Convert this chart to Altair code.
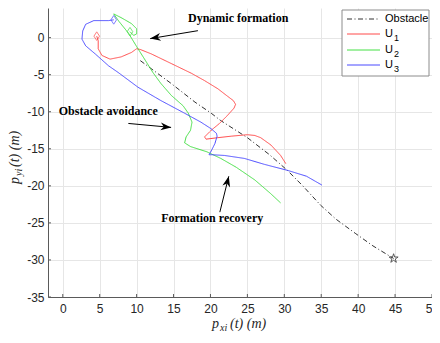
import math
import altair as alt
import pandas as pd

# ---------------- data ----------------
series_names = ["Obstacle", "U₁", "U₂", "U₃"]
series_colors = ["#333333", "#ff4a4a", "#45e045", "#4a4aff"]
series_dash = [[5, 2.5, 1, 2.5], [1, 0], [1, 0], [1, 0]]
legend_main = ["Obstacle", "U", "U", "U"]
legend_sub = ["", "1", "2", "3"]

obs_x = [10.5, 14.7, 17.9, 20.1, 21.4, 25.0, 28.0, 30.4, 32.5, 34.9, 37.0, 39.6, 42.0, 44.8]
obs_y = [-3.1, -6.2, -8.7, -10.2, -11.2, -13.5, -15.8, -17.9, -20.0, -22.6, -24.5, -26.4, -28.1, -29.8]

u1_x = [4.6, 4.8, 4.8, 5.3, 6.4, 7.9, 9.3, 10.0, 10.5, 12.0, 14.7, 17.4, 19.2, 21.0, 22.3,
        23.1, 23.4, 23.2, 22.3, 21.2, 20.1, 19.2, 19.4, 21.0, 22.8, 25.0, 26.0, 26.8, 28.2, 29.5, 30.2]
u1_y = [0.2, -0.4, -1.5, -2.4, -2.9, -2.6, -2.0, -1.5, -1.6, -2.2, -3.5, -4.8, -5.8, -6.9, -7.9,
        -8.5, -9.0, -9.5, -10.5, -11.6, -12.5, -13.4, -13.7, -13.5, -13.3, -13.1, -13.2, -13.5, -14.5, -15.9, -17.0]

u2_x = [9.1, 9.6, 10.0, 10.0, 9.3, 7.9, 6.9, 7.6, 8.9, 10.0, 11.2, 12.2, 13.3, 14.7, 16.3, 17.0,
        17.5, 17.3, 16.7, 16.5, 17.3, 19.5, 21.4, 23.5, 26.0, 28.1, 29.5]
u2_y = [0.8, 0.3, 0.5, 1.2, 1.9, 2.7, 3.2, 2.2, 0.6, -1.2, -3.1, -4.7, -6.2, -7.8, -9.2, -10.2,
        -11.4, -12.5, -13.4, -14.2, -14.7, -15.4, -16.3, -17.5, -19.2, -21.0, -22.3]

u3_x = [6.9, 6.2, 4.2, 3.1, 2.7, 2.6, 3.1, 4.4, 6.2, 7.5, 10.2, 13.3, 16.5, 18.7, 20.1, 20.8, 20.9,
        20.6, 20.1, 19.8, 20.2, 21.9, 24.6, 27.3, 30.4, 33.0, 35.1]
u3_y = [2.4, 2.3, 2.3, 1.8, 0.9, -0.2, -1.1, -2.2, -3.8, -4.7, -6.7, -8.5, -10.2, -11.4, -12.3, -12.9, -13.3,
        -14.3, -15.3, -15.8, -15.8, -15.9, -16.3, -17.1, -17.9, -18.7, -19.9]

start_names = ["U₁", "U₂", "U₃"]
start_x = [4.6, 9.1, 6.9]
start_y = [0.2, 0.8, 2.4]
goal_x = [44.8]
goal_y = [-29.8]

note_text = ["Dynamic formation", "Obstacle avoidance", "Formation recovery"]
note_x = [16.96, -0.54, 13.32]
note_y = [2.69, -9.96, -24.36]
arrow_x1 = [18.3, 8.88, 21.27]
arrow_y1 = [0.94, -11.58, -23.55]
arrow_x2 = [11.84, 14.67, 22.48]
arrow_y2 = [-0.13, -12.11, -18.71]

x_ticks = [0, 5, 10, 15, 20, 25, 30, 35, 40, 45, 50]
y_ticks = [-35, -30, -25, -20, -15, -10, -5, 0]
x_domain = [-2, 50]
y_domain = [-35, 4]

# ---------------- layout ----------------
W, H = 384, 289
sx = W / (x_domain[1] - x_domain[0])
sy = H / (y_domain[1] - y_domain[0])

rows = []
for name, xs, ys in [("Obstacle", obs_x, obs_y), ("U₁", u1_x, u1_y),
                     ("U₂", u2_x, u2_y), ("U₃", u3_x, u3_y)]:
    for i, (a, b) in enumerate(zip(xs, ys)):
        rows.append({"x": a, "y": b, "series": name, "i": i})
df_lines = pd.DataFrame(rows)

df_start = pd.DataFrame({"x": start_x, "y": start_y, "series": start_names})
df_goal = pd.DataFrame({"x": goal_x, "y": goal_y})
df_notes = pd.DataFrame({"x": note_x, "y": note_y, "text": note_text})
angles = [math.degrees(math.atan2(-(y2 - y1) * sy, (x2 - x1) * sx)) % 360
          for x1, y1, x2, y2 in zip(arrow_x1, arrow_y1, arrow_x2, arrow_y2)]
df_arrows = pd.DataFrame({"x": arrow_x1, "y": arrow_y1, "x2": arrow_x2, "y2": arrow_y2, "ang": angles})
df_xt = pd.DataFrame({"x": x_ticks})
df_yt = pd.DataFrame({"y": y_ticks})

# legend layout (pixels inside the plot area)
LX0, LX1, LY0, LY1 = 294, 381, 2, 68
row_y = [11, 26, 42, 57]
df_leg = pd.DataFrame({
    "col": series_colors, "main": legend_main, "sub": legend_sub,
    "ry": row_y, "rx0": [LX0 + 5] * 4, "rx1": [LX0 + 38] * 4,
    "tx": [LX0 + 43] * 4, "sxp": [LX0 + 52] * 4,
    "sy": [r + 4 for r in row_y],
})
df_leg_obs = df_leg.iloc[:1]
df_leg_u = df_leg.iloc[1:]

xscale = alt.Scale(domain=x_domain, nice=False, zero=False)
yscale = alt.Scale(domain=y_domain, nice=False, zero=False)
axis_common = dict(grid=True, gridColor="#e6e6e6", ticks=False, domainColor="#5a5a5a",
                   labelFont="Liberation Sans", labelFontSize=12, labelColor="#262626",
                   title=None, labelExpr="datum.value + ''")
xaxis = alt.Axis(values=x_ticks, labelPadding=6, labelFlush=False, **axis_common)
yaxis = alt.Axis(values=y_ticks, labelPadding=4, **axis_common)


def X(f="x"):
    return alt.X(f"{f}:Q", scale=xscale, axis=xaxis)


def Y(f="y"):
    return alt.Y(f"{f}:Q", scale=yscale, axis=yaxis)


color_scale = alt.Scale(domain=series_names, range=series_colors)
dash_scale = alt.Scale(domain=series_names, range=series_dash)

lines = alt.Chart(df_lines).mark_line(strokeWidth=1).encode(
    x=X(), y=Y(),
    color=alt.Color("series:N", scale=color_scale, legend=None),
    strokeDash=alt.StrokeDash("series:N", scale=dash_scale, legend=None),
    order=alt.Order("i:Q"),
)

diamond = "M0,-1L0.65,0L0,1L-0.65,0Z"
starts = alt.Chart(df_start).mark_point(shape=diamond, size=75, filled=False, strokeWidth=1).encode(
    x=X(), y=Y(),
    stroke=alt.Stroke("series:N", scale=alt.Scale(domain=series_names[1:], range=series_colors[1:]), legend=None),
)

star = ("M0,-1L0.223,-0.307L0.951,-0.309L0.361,0.117L0.588,0.809L0,0.38L-0.588,0.809"
        "L-0.361,0.117L-0.951,-0.309L-0.223,-0.307Z")
goal = alt.Chart(df_goal).mark_point(shape=star, size=90, filled=False, strokeWidth=0.9, color="black").encode(
    x=X(), y=Y())

xt = alt.Chart(df_xt).mark_rule(color="#5a5a5a", strokeWidth=1).encode(
    x=X(), y=alt.value(H), y2=alt.value(H - 3))
yt = alt.Chart(df_yt).mark_rule(color="#5a5a5a", strokeWidth=1).encode(
    y=Y(), x=alt.value(0), x2=alt.value(3))

arrow_rules = alt.Chart(df_arrows).mark_rule(color="black", strokeWidth=1).encode(
    x=X(), y=Y(), x2="x2:Q", y2="y2:Q")
arrow_heads = alt.Chart(df_arrows).mark_point(
    shape="M0,0L-2,-0.75L-1.4,0L-2,0.75Z", size=110, filled=True, color="black", opacity=1
).encode(x=X("x2"), y=Y("y2"), angle=alt.Angle("ang:Q", scale=None))

notes = alt.Chart(df_notes).mark_text(font="Liberation Serif", fontWeight="bold", fontSize=12,
                                      align="left", baseline="middle", color="black").encode(
    x=X(), y=Y(), text="text:N")

# manual legend
leg_box = alt.Chart().mark_rect(fill="white", stroke="#8c8c8c", strokeWidth=1).encode(
    x=alt.value(LX0), x2=alt.value(LX1), y=alt.value(LY0), y2=alt.value(LY1))
leg_obs = alt.Chart(df_leg_obs).mark_rule(strokeWidth=1, color=series_colors[0],
                                          strokeDash=series_dash[0]).encode(
    x=alt.X("rx0:Q", scale=None), x2="rx1:Q", y=alt.Y("ry:Q", scale=None))
leg_u = alt.Chart(df_leg_u).mark_rule(strokeWidth=1).encode(
    x=alt.X("rx0:Q", scale=None), x2="rx1:Q", y=alt.Y("ry:Q", scale=None),
    stroke=alt.Stroke("col:N", scale=None))
leg_text = alt.Chart(df_leg).mark_text(font="Liberation Sans", fontSize=11, align="left",
                                       baseline="middle", color="black").encode(
    x=alt.X("tx:Q", scale=None), y=alt.Y("ry:Q", scale=None), text="main:N")
leg_sub = alt.Chart(df_leg).mark_text(font="Liberation Sans", fontSize=9, align="left",
                                      baseline="middle", color="black").encode(
    x=alt.X("sxp:Q", scale=None), y=alt.Y("sy:Q", scale=None), text="sub:N")

tstyle = dict(font="Liberation Serif", fontStyle="italic", color="#262626", align="left", baseline="alphabetic")
xt1 = alt.Chart().mark_text(fontSize=14, **tstyle).encode(x=alt.value(164), y=alt.value(320), text=alt.value("p"))
xt2 = alt.Chart().mark_text(fontSize=10, **tstyle).encode(x=alt.value(172), y=alt.value(323), text=alt.value("xi"))
xt3 = alt.Chart().mark_text(fontSize=14, **tstyle).encode(x=alt.value(182), y=alt.value(320), text=alt.value("(t)  (m)"))
yt1 = alt.Chart().mark_text(fontSize=14, angle=270, **tstyle).encode(x=alt.value(-29), y=alt.value(176), text=alt.value("p"))
yt2 = alt.Chart().mark_text(fontSize=10, angle=270, **tstyle).encode(x=alt.value(-26), y=alt.value(168), text=alt.value("yi"))
yt3 = alt.Chart().mark_text(fontSize=14, angle=270, **tstyle).encode(x=alt.value(-29), y=alt.value(159), text=alt.value("(t)  (m)"))

chart = alt.layer(
    xt, yt, lines, starts, goal, arrow_rules, arrow_heads, notes,
    leg_box, leg_obs, leg_u, leg_text, leg_sub,
    xt1, xt2, xt3, yt1, yt2, yt3,
).properties(
    width=W, height=H,
    autosize=alt.AutoSizeParams(type="none"),
    padding={"left": 40, "top": 0, "right": 0, "bottom": 38},
    background="white",
).configure_view(stroke=None)

chart.save("out.html", embed_options={"renderer": "svg", "actions": False})
